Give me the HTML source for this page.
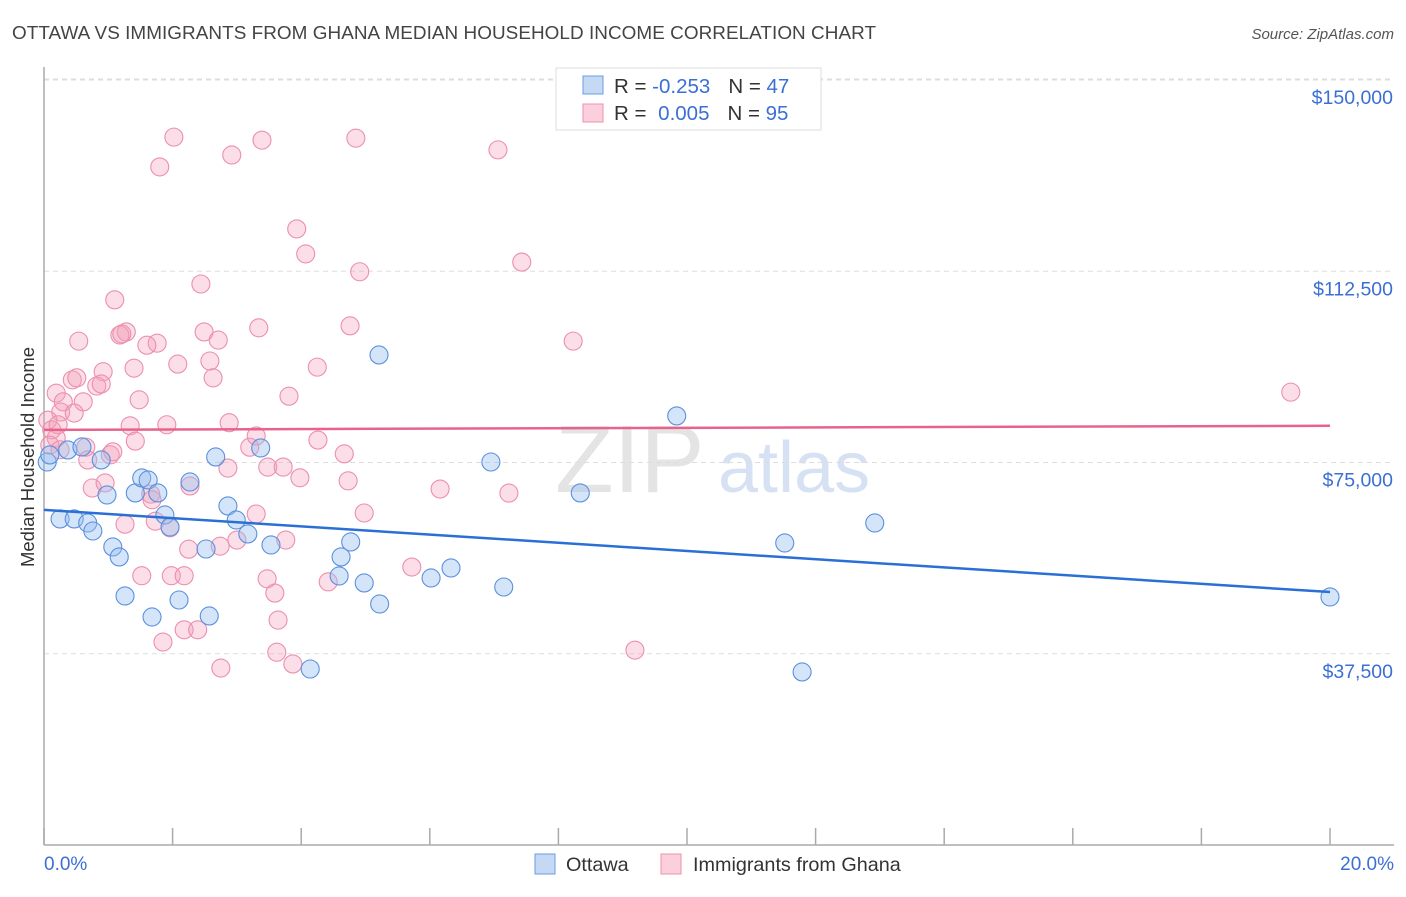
<!DOCTYPE html>
<html><head><meta charset="utf-8"><style>
body{margin:0;background:#fff;font-family:"Liberation Sans",sans-serif}
svg text{font-family:"Liberation Sans",sans-serif}
</style></head><body>
<svg id="chart" width="1406" height="892" viewBox="0 0 1406 892" xmlns="http://www.w3.org/2000/svg">
<text x="12" y="39" font-size="18.9" fill="#444" textLength="864">OTTAWA VS IMMIGRANTS FROM GHANA MEDIAN HOUSEHOLD INCOME CORRELATION CHART</text>
<text x="1394" y="39" font-size="15" fill="#555" text-anchor="end" font-style="italic">Source: ZipAtlas.com</text>
<g>
<text x="555" y="492" font-size="96" fill="#e4e4e4" font-family="Liberation Serif">ZIP</text>
<text x="718" y="492" font-size="72" fill="#d6e2f3">atlas</text>
</g>
<g id="grid"></g>
<g id="axes"></g>
<g id="pts"></g>
<g id="trends"></g>
<text transform="translate(34,457) rotate(-90)" font-size="18.5" fill="#333" text-anchor="middle">Median Household Income</text>
<text x="44" y="870" font-size="19" fill="#3b6fd4">0.0%</text>
<text x="1394" y="870" font-size="19" fill="#3b6fd4" text-anchor="end">20.0%</text>
<g>
<rect x="556" y="68" width="265" height="62" fill="#fff" stroke="#ddd"/>
<rect x="583" y="76" width="20" height="18" fill="#c5d9f5" stroke="#6a9be0"/>
<rect x="583" y="104" width="20" height="18" fill="#fbd0dc" stroke="#ee8fae"/>
<text x="614" y="93" font-size="20.5" fill="#333">R = <tspan fill="#3b6fd4">-0.253</tspan><tspan dx="18">N = </tspan><tspan fill="#3b6fd4">47</tspan></text>
<text x="614" y="120" font-size="20.5" fill="#333">R = <tspan dx="6" fill="#3b6fd4">0.005</tspan><tspan dx="18">N = </tspan><tspan fill="#3b6fd4">95</tspan></text>
</g>
<g>
<rect x="535" y="854" width="20" height="20" fill="#c5d9f5" stroke="#6a9be0"/>
<text x="566" y="871" font-size="19.8" fill="#333">Ottawa</text>
<rect x="661" y="854" width="20" height="20" fill="#fbd0dc" stroke="#ee8fae"/>
<text x="693" y="871" font-size="19.8" fill="#333">Immigrants from Ghana</text>
</g>
</svg>
<script>
const yTicks=[37500,75000,112500,150000];
const yTickLabels=["$37,500","$75,000","$112,500","$150,000"];
const xTicks=[0,2,4,6,8,10,12,14,16,18,20];
const ottawaX=[0.05,0.09,0.37,0.59,0.25,0.47,0.68,0.76,0.89,0.98,1.07,1.17,1.26,1.42,1.52,1.62,1.68,1.77,1.88,1.96,2.10,2.27,2.52,2.57,2.67,2.86,2.99,3.17,3.37,3.53,4.14,4.62,4.59,4.77,4.98,5.22,5.21,6.02,6.33,6.95,7.15,8.34,9.84,11.52,11.79,12.92,20.0];
const ottawaY=[75100,76480,77460,78050,63930,63930,63140,61570,75500,68630,58440,56480,48830,69030,71970,71580,44710,69030,64710,62360,48040,71180,58040,44910,76090,66480,63730,60990,77850,58830,34510,56480,52750,59420,51380,47260,96090,52360,54320,75100,50590,69030,84130,59220,33930,63140,48630];
const ghanaX=[1.80,2.02,2.92,3.39,4.85,7.06,3.93,4.07,4.91,7.43,2.44,1.10,0.54,1.28,1.18,1.21,1.76,1.60,2.49,2.71,3.34,4.76,8.23,0.44,0.51,0.92,0.82,0.89,1.40,2.08,2.58,2.63,4.25,0.19,0.30,0.26,0.61,0.47,1.48,1.91,2.88,3.81,1.34,1.42,0.06,0.12,0.22,0.19,0.09,0.25,0.65,1.03,1.07,0.68,3.20,4.26,4.67,0.75,0.95,2.27,2.86,3.48,3.72,3.98,4.73,6.16,7.23,19.39,1.66,1.68,1.26,1.73,1.96,2.25,2.74,3.00,3.30,3.76,4.98,5.72,1.52,1.98,2.18,3.47,3.59,4.42,2.18,2.39,1.85,3.64,3.62,3.87,2.75,9.19,3.30];
const ghanaY=[132960,138800,135300,138200,138600,136300,120800,115900,112400,114300,110000,106900,98800,100600,100000,100200,98400,98000,100600,99000,101400,101800,98800,91200,91600,92800,90000,90400,93500,94300,94900,91600,93700,88600,86900,84900,86900,84700,87300,82400,82800,88000,82200,79200,83300,81400,82400,79800,78400,77500,78000,76500,77100,75500,78000,79400,76700,70000,71000,70400,73900,74100,74100,72000,71400,69800,69000,88800,68800,67700,62900,63500,62200,58000,58600,59800,64900,59800,65100,54500,52800,52800,52800,52200,49400,51600,42200,42200,39800,44100,37800,35500,34700,38200,80200];
const ottawaTrend=[65700,49600];
const ghanaTrend=[81400,82200];
const NS="http://www.w3.org/2000/svg";
const xs=v=>44+v/20*1286, ys=v=>845-v/150000*765;
function mk(t,a,p){const e=document.createElementNS(NS,t);for(const k in a)e.setAttribute(k,a[k]);p.appendChild(e);return e;}
const grid=document.getElementById('grid'),axes=document.getElementById('axes');
yTicks.forEach((v,i)=>{
 const l=mk('line',{x1:44,x2:1394,y1:ys(v),y2:ys(v),stroke:'#ddd','stroke-dasharray':'5,4'},grid);
 
 
 const t=mk('text',{x:1393,y:ys(v)+24,'font-size':19.5,fill:'#3b6fd4','text-anchor':'end'},axes);
 t.textContent=yTickLabels[i];
 
 
});
const tl=mk('line',{x1:44,x2:1394,y1:79,y2:79,stroke:'#ddd','stroke-dasharray':'5,4'},grid);


const ya=mk('line',{x1:44,x2:44,y1:67,y2:845,stroke:'#aaa','stroke-width':1.5},axes);


const xa=mk('line',{x1:44,x2:1394,y1:845,y2:845,stroke:'#aaa','stroke-width':1.5},axes);


xTicks.forEach(v=>{
 const t=mk('line',{x1:xs(v),x2:xs(v),y1:828,y2:845,stroke:'#aaa','stroke-width':1.5},axes);
 
 
});
const pts=document.getElementById('pts');
ghanaX.forEach((x,i)=>{
 const c=mk('circle',{cx:xs(x),cy:ys(ghanaY[i]),r:9,fill:'rgba(244,160,186,0.35)',stroke:'#ec8fae','stroke-width':1.1},pts);
 
 
});
ottawaX.forEach((x,i)=>{
 const c=mk('circle',{cx:xs(x),cy:ys(ottawaY[i]),r:9,fill:'rgba(150,190,240,0.4)',stroke:'#5b90dd','stroke-width':1.1},pts);
 
 
});
const tr=document.getElementById('trends');
const t1=mk('line',{x1:xs(0),x2:xs(20),y1:ys(ghanaTrend[0]),y2:ys(ghanaTrend[1]),stroke:'#e8638c','stroke-width':2.5},tr);


const t2=mk('line',{x1:xs(0),x2:xs(20),y1:ys(ottawaTrend[0]),y2:ys(ottawaTrend[1]),stroke:'#2a6fd6','stroke-width':2.5},tr);


</script>
</body></html>
